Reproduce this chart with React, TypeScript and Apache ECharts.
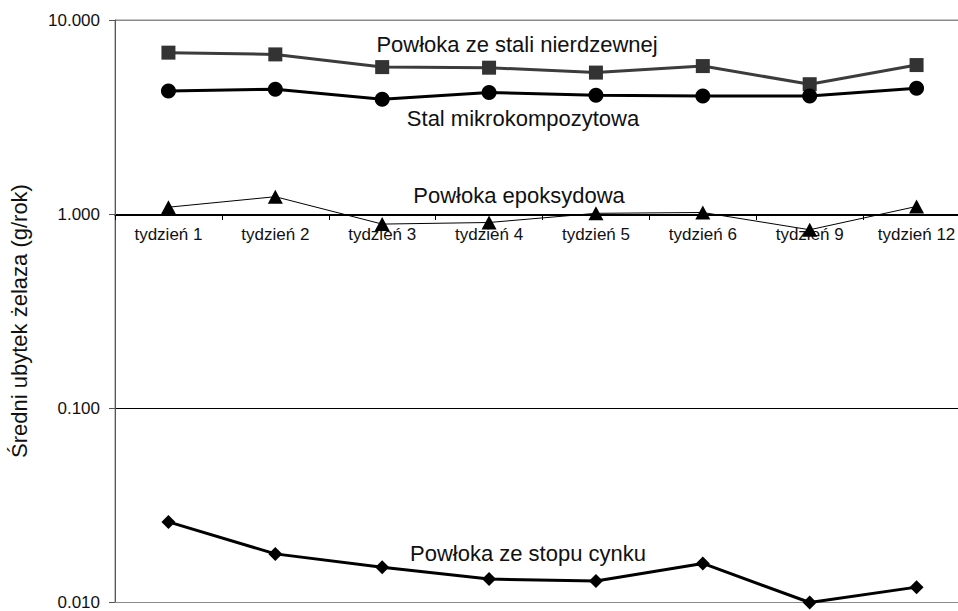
import React, { useEffect, useRef } from "react";
import * as echarts from "echarts";

// Measurement weeks on the category axis
const weeks = [
  "tydzień 1",
  "tydzień 2",
  "tydzień 3",
  "tydzień 4",
  "tydzień 5",
  "tydzień 6",
  "tydzień 9",
  "tydzień 12",
];

// Mean iron loss (g/rok) per coating type
const stainlessClad = [6.79, 6.65, 5.72, 5.68, 5.36, 5.79, 4.67, 5.86];
const microComposite = [4.31, 4.4, 3.91, 4.23, 4.1, 4.06, 4.06, 4.45];
const epoxy = [1.086, 1.23, 0.889, 0.906, 1.01, 1.02, 0.831, 1.096];
const zincAlloy = [0.026, 0.0178, 0.0152, 0.0132, 0.0129, 0.0159, 0.01, 0.012];

// Log axis range
const yMin = 0.01;
const yMax = 10;

const FONT = "'Liberation Sans', Arial, Helvetica, sans-serif";

const annotation = (text: string, x: number, y: number) => ({
  type: "text",
  x,
  y,
  style: {
    text,
    fontSize: 22,
    fontFamily: FONT,
    fill: "#111111",
    textAlign: "center",
    textVerticalAlign: "middle",
  },
});

export default function App() {
  const ref = useRef<HTMLDivElement>(null);

  useEffect(() => {
    if (!ref.current) return;
    const chart = echarts.init(ref.current, undefined, { renderer: "svg" });

    const plotLeft = 115;
    const plotTop = 20;
    const plotBottom = 6;
    const plotRight = 0;

    chart.setOption({
      animation: false,
      backgroundColor: "#ffffff",
      grid: [
        {
          left: plotLeft,
          top: plotTop,
          right: plotRight,
          bottom: plotBottom,
          show: true,
          borderColor: "#8a8a8a",
          borderWidth: 1,
          backgroundColor: "transparent",
        },
        // upper band that carries the category axis along the 1.000 line
        {
          left: plotLeft,
          top: plotTop,
          right: plotRight,
          height: 195,
          show: false,
        },
      ],
      xAxis: [
        {
          type: "category",
          gridIndex: 0,
          data: weeks,
          boundaryGap: true,
          axisLine: { show: true, lineStyle: { color: "#8a8a8a", width: 1 } },
          axisTick: { show: false },
          axisLabel: { show: false },
          splitLine: { show: false },
        },
        {
          type: "category",
          gridIndex: 1,
          data: weeks,
          boundaryGap: true,
          position: "bottom",
          axisLine: { show: true, lineStyle: { color: "#000000", width: 1 } },
          axisTick: { show: true, length: 5, lineStyle: { color: "#000000" } },
          axisLabel: {
            show: true,
            margin: 11,
            color: "#111111",
            fontSize: 17,
            fontFamily: FONT,
          },
          splitLine: { show: false },
        },
      ],
      yAxis: [
        {
          type: "log",
          gridIndex: 0,
          logBase: 10,
          min: yMin,
          max: yMax,
          axisLine: { show: true, lineStyle: { color: "#555555", width: 1 } },
          axisTick: { show: true, length: 6, lineStyle: { color: "#555555" } },
          axisLabel: {
            margin: 15,
            color: "#111111",
            fontSize: 17,
            fontFamily: FONT,
            formatter: (v: number) => v.toFixed(3),
          },
          splitLine: {
            show: true,
            lineStyle: { color: ["#8a8a8a", "#000000", "#000000", "#8a8a8a"], width: 1 },
          },
        },
        {
          type: "value",
          gridIndex: 1,
          show: false,
          min: 0,
          max: 1,
        },
      ],
      series: [
        {
          name: "Powłoka ze stali nierdzewnej",
          type: "line",
          xAxisIndex: 0,
          yAxisIndex: 0,
          data: stainlessClad,
          symbol: "rect",
          symbolSize: 14,
          clip: false,
          itemStyle: { color: "#333333" },
          lineStyle: { color: "#3c3c3c", width: 3 },
          z: 3,
        },
        {
          name: "Stal mikrokompozytowa",
          type: "line",
          xAxisIndex: 0,
          yAxisIndex: 0,
          data: microComposite,
          symbol: "circle",
          symbolSize: 15,
          clip: false,
          itemStyle: { color: "#000000" },
          lineStyle: { color: "#000000", width: 3 },
          z: 4,
        },
        {
          name: "Powłoka epoksydowa",
          type: "line",
          xAxisIndex: 0,
          yAxisIndex: 0,
          data: epoxy,
          symbol: "triangle",
          symbolSize: [15, 14],
          clip: false,
          itemStyle: { color: "#000000" },
          lineStyle: { color: "#000000", width: 1 },
          z: 3,
        },
        {
          name: "Powłoka ze stopu cynku",
          type: "line",
          xAxisIndex: 0,
          yAxisIndex: 0,
          data: zincAlloy,
          symbol: "diamond",
          symbolSize: 14,
          clip: false,
          itemStyle: { color: "#000000" },
          lineStyle: { color: "#000000", width: 3 },
          z: 3,
        },
      ],
      graphic: [
        {
          type: "text",
          x: 19,
          y: 321,
          rotation: Math.PI / 2,
          style: {
            text: "Średni ubytek żelaza (g/rok)",
            fontSize: 22,
            fontFamily: FONT,
            fill: "#111111",
            textAlign: "center",
            textVerticalAlign: "middle",
          },
        },
        annotation("Powłoka ze stali nierdzewnej", 517, 44),
        annotation("Stal mikrokompozytowa", 523, 118),
        annotation("Powłoka epoksydowa", 519, 195),
        annotation("Powłoka ze stopu cynku", 528, 553),
      ],
    });

    return () => chart.dispose();
  }, []);

  // The plot area runs slightly past the right edge of the visible frame.
  return (
    <div
      style={{
        position: "absolute",
        left: 0,
        top: 0,
        width: 958,
        height: 611,
        overflow: "hidden",
        background: "#ffffff",
      }}
    >
      <div ref={ref} style={{ width: 970, height: 611 }} />
    </div>
  );
}
